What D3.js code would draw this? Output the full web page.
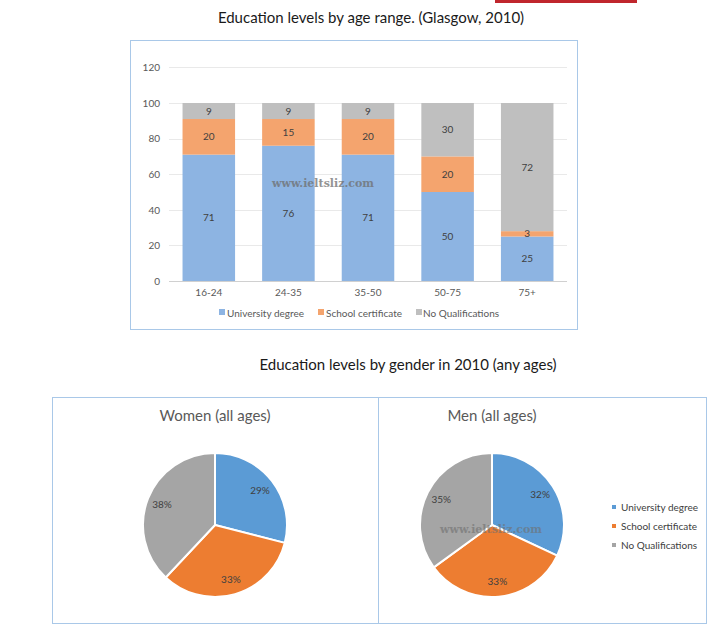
<!DOCTYPE html>
<html>
<head>
<meta charset="utf-8">
<script src="https://cdn.jsdelivr.net/npm/d3@7"></script>
<style>
  html, body { margin: 0; padding: 0; background: #fff; }
  svg { display: block; font-family: Lato, "Open Sans", sans-serif; }
</style>
</head>
<body>
<svg id="chart" width="720" height="629"></svg>
<script>
// ---- Data ----
const categories = ["16-24", "24-35", "35-50", "50-75", "75+"];
const university = [71, 76, 71, 50, 25];
const school = [20, 15, 20, 20, 3];
const noQual = [9, 9, 9, 30, 72];
const yTicks = [0, 20, 40, 60, 80, 100, 120];
const seriesNames = ["University degree", "School certificate", "No Qualifications"];

const pieGroups = ["Women (all ages)", "Men (all ages)"];
const womenShares = [29, 33, 38];
const menShares = [32, 33, 35];

const barColors = ["#8DB4E2", "#F4A46E", "#BFBFBF"];
const pieColors = ["#5B9BD5", "#ED7D31", "#A5A5A5"];

const svg = d3.select("#chart");

// red strip at top
svg.append("rect").attr("x", 495).attr("y", 0).attr("width", 142).attr("height", 3).attr("fill", "#C0262D");

// ---- Bar chart ----
svg.append("text").attr("x", 371).attr("y", 23).attr("text-anchor", "middle")
  .attr("font-size", 15).attr("fill", "#1a1a1a").text("Education levels by age range. (Glasgow, 2010)");

svg.append("rect").attr("x", 130.5).attr("y", 40.5).attr("width", 447).attr("height", 289)
  .attr("fill", "#fff").attr("stroke", "#A9C8E8").attr("stroke-width", 1);

const y = d3.scaleLinear().domain([0, 120]).range([281, 67.4]);
const x = d3.scaleBand().domain(categories).range([169, 567]).paddingInner(0.34).paddingOuter(0.17);

// gridlines
svg.append("g").selectAll("line").data(yTicks).join("line")
  .attr("x1", 169).attr("x2", 567)
  .attr("y1", d => Math.round(y(d)) + 0.5).attr("y2", d => Math.round(y(d)) + 0.5)
  .attr("stroke", d => d === 0 ? "#D0D0D0" : "#E9E9E9").attr("stroke-width", 1);

// y axis labels
const yAxis = d3.axisLeft(y).tickValues(yTicks).tickSize(0).tickPadding(0);
const yg = svg.append("g").attr("transform", "translate(160,0)").call(yAxis);
yg.select(".domain").remove();
yg.selectAll("text").attr("font-size", 10).attr("fill", "#595959").attr("font-family", "Lato, sans-serif");

// x axis labels
const xAxis = d3.axisBottom(x).tickSize(0).tickPadding(0);
const xg = svg.append("g").attr("transform", "translate(0,289)").call(xAxis);
xg.select(".domain").remove();
xg.selectAll("text").attr("font-size", 10).attr("fill", "#595959").attr("font-family", "Lato, sans-serif");

// stacked bars
const rows = categories.map((c, i) => ({ cat: c, s0: university[i], s1: school[i], s2: noQual[i] }));
const stack = d3.stack().keys(["s0", "s1", "s2"]);
const stacked = stack(rows);

const layers = svg.append("g").selectAll("g").data(stacked).join("g")
  .attr("fill", (d, i) => barColors[i]);
layers.selectAll("rect").data(d => d).join("rect")
  .attr("x", d => x(d.data.cat))
  .attr("width", x.bandwidth())
  .attr("y", d => y(d[1]))
  .attr("height", d => y(d[0]) - y(d[1]));

const labelG = svg.append("g");
stacked.forEach(layer => {
  layer.forEach(d => {
    labelG.append("text")
      .attr("x", x(d.data.cat) + x.bandwidth() / 2)
      .attr("y", (y(d[0]) + y(d[1])) / 2)
      .attr("dy", "0.35em")
      .attr("text-anchor", "middle")
      .attr("font-size", 10).attr("fill", "#404040")
      .text(d[1] - d[0]);
  });
});

// watermark
svg.append("text").attr("x", 323).attr("y", 183).attr("dy", "0.35em").attr("text-anchor", "middle")
  .attr("font-family", "'DejaVu Serif', 'Liberation Serif', serif").attr("font-weight", "bold")
  .attr("font-size", 11).attr("fill", "#6f6f6f").attr("opacity", 0.75).text("www.ieltsliz.com");

// bar legend
const legendItems = [
  { name: seriesNames[0], sx: 219, tx: 227 },
  { name: seriesNames[1], sx: 318, tx: 326 },
  { name: seriesNames[2], sx: 416, tx: 423 }
];
const bl = svg.append("g");
legendItems.forEach((it, i) => {
  bl.append("rect").attr("x", it.sx).attr("y", 309).attr("width", 6).attr("height", 6).attr("fill", barColors[i]);
  bl.append("text").attr("x", it.tx).attr("y", 313).attr("dy", "0.35em")
    .attr("font-size", 10).attr("fill", "#595959").text(it.name);
});

// ---- Pie charts ----
svg.append("text").attr("x", 408).attr("y", 370).attr("text-anchor", "middle")
  .attr("font-size", 15).attr("fill", "#1a1a1a").text("Education levels by gender in 2010 (any ages)");

svg.append("rect").attr("x", 52.5).attr("y", 397.5).attr("width", 654).attr("height", 226)
  .attr("fill", "#fff").attr("stroke", "#A9C8E8").attr("stroke-width", 1);
svg.append("line").attr("x1", 378.5).attr("x2", 378.5).attr("y1", 397.5).attr("y2", 623.5)
  .attr("stroke", "#A9C8E8").attr("stroke-width", 1);

const pie = d3.pie().sort(null).value(d => d);
const R = 72;
const arc = d3.arc().innerRadius(0).outerRadius(R);
const labelArc = d3.arc().innerRadius(57).outerRadius(57);

const pies = [
  { title: pieGroups[0], data: womenShares, cx: 215, cy: 525 },
  { title: pieGroups[1], data: menShares, cx: 492, cy: 525 }
];

pies.forEach(p => {
  svg.append("text").attr("x", p.cx).attr("y", 421).attr("text-anchor", "middle")
    .attr("font-size", 15).attr("fill", "#595959").text(p.title);
  const g = svg.append("g").attr("transform", `translate(${p.cx},${p.cy})`);
  const arcs = pie(p.data);
  g.selectAll("path").data(arcs).join("path")
    .attr("d", arc)
    .attr("fill", (d, i) => pieColors[i])
    .attr("stroke", "#fff").attr("stroke-width", 2).attr("stroke-linejoin", "round");
  g.selectAll("text").data(arcs).join("text")
    .attr("transform", d => `translate(${labelArc.centroid(d)})`)
    .attr("dy", "0.35em").attr("text-anchor", "middle")
    .attr("font-size", 10).attr("fill", "#404040")
    .text(d => d.data + "%");
});

// pie watermark
svg.append("text").attr("x", 491).attr("y", 529).attr("dy", "0.35em").attr("text-anchor", "middle")
  .attr("font-family", "'DejaVu Serif', 'Liberation Serif', serif").attr("font-weight", "bold")
  .attr("font-size", 11).attr("fill", "#6f6f6f").attr("opacity", 0.6).text("www.ieltsliz.com");

// pie legend
const pl = svg.append("g");
seriesNames.forEach((n, i) => {
  const yy = 507 + i * 19;
  pl.append("rect").attr("x", 612).attr("y", yy - 2).attr("width", 4).attr("height", 4).attr("fill", pieColors[i]);
  pl.append("text").attr("x", 621).attr("y", yy).attr("dy", "0.35em")
    .attr("font-size", 10).attr("fill", "#404040").text(n);
});
</script>
</body>
</html>
